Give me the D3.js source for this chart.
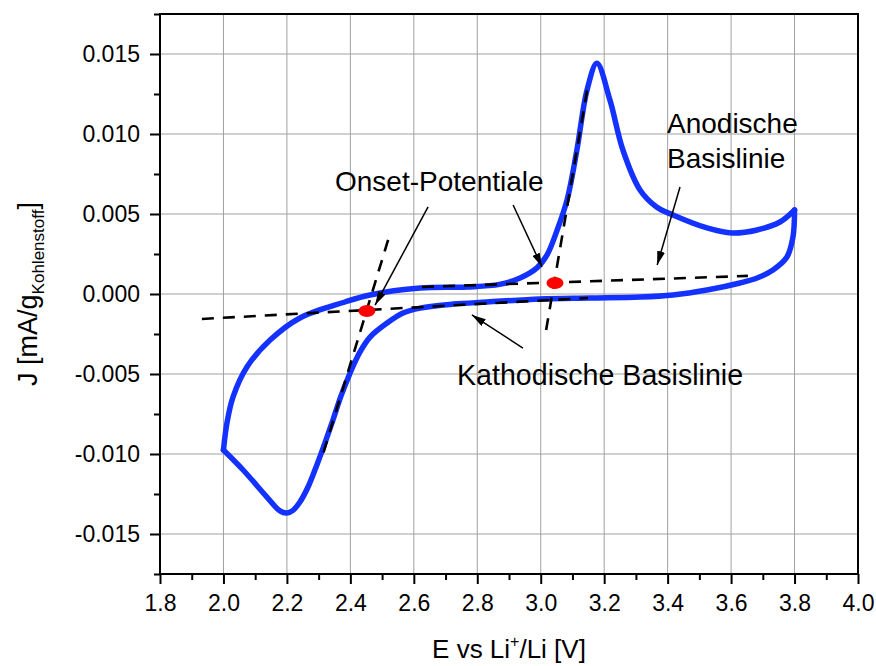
<!DOCTYPE html>
<html>
<head>
<meta charset="utf-8">
<script src="https://cdn.jsdelivr.net/npm/d3@7"></script>
<style>
  body { margin: 0; background: #fff; }
  svg text { font-family: Arial, "Liberation Sans", sans-serif; fill: #000; }
</style>
</head>
<body>
<div id="chart"></div>
<script>
'use strict';

// anodic sweep (2.0 V -> 3.8 V)
const anodicE = [2.000, 2.011, 2.030, 2.074, 2.147, 2.241, 2.383, 2.462, 2.620, 2.768, 2.870, 2.935, 2.988,
                 3.020, 3.050, 3.083, 3.114, 3.146, 3.177, 3.218, 3.259, 3.313, 3.365, 3.417, 3.524, 3.603,
                 3.682, 3.754, 3.800];
const anodicJ = [-0.00975, -0.00806, -0.00644, -0.00456, -0.00288, -0.00150, -0.00050, -0.00006, 0.00037,
                 0.00044, 0.00060, 0.00100, 0.00163, 0.00245, 0.00390, 0.00588, 0.00900, 0.01275, 0.01442,
                 0.01213, 0.00900, 0.00650, 0.00544, 0.00494, 0.00413, 0.00381, 0.00400, 0.00450, 0.00525];

// cathodic sweep (3.8 V -> 2.0 V)
const cathodicE = [3.800, 3.795, 3.776, 3.732, 3.682, 3.628, 3.524, 3.417, 3.313, 3.155, 2.998, 2.831,
                   2.724, 2.620, 2.566, 2.516, 2.462, 2.430, 2.399, 2.370, 2.345, 2.320, 2.295, 2.268,
                   2.241, 2.219, 2.200, 2.178, 2.137, 2.062, 2.000];
const cathodicJ = [0.00525, 0.00356, 0.00231, 0.00150, 0.00100, 0.00069, 0.00025, -0.00006, -0.00019,
                   -0.00025, -0.00031, -0.00050, -0.00063, -0.00088, -0.00119, -0.00181, -0.00269,
                   -0.00363, -0.00494, -0.00640, -0.00788, -0.00930, -0.01065, -0.01200, -0.01300,
                   -0.01352, -0.01369, -0.01356, -0.01269, -0.01100, -0.00975];

// dashed construction lines: baselines and tangents (start, end)
const cathodicBaseE = [1.932, 3.149];
const cathodicBaseJ = [-0.00156, -0.00025];
const anodicBaseE = [2.626, 3.653];
const anodicBaseJ = [0.00044, 0.00113];
const anodicTangentE = [3.017, 3.149];
const anodicTangentJ = [-0.00225, 0.01306];
const cathodicTangentE = [2.519, 2.311];
const cathodicTangentJ = [0.00338, -0.01019];

// onset potentials (intersections)
const onsetE = [2.452, 3.045];
const onsetJ = [-0.00106, 0.00069];

// annotation arrows: start -> tip
const arrowStartE = [2.645, 2.913, 3.439, 2.944];
const arrowStartJ = [0.00544, 0.00556, 0.00669, -0.00338];
const arrowEndE = [2.478, 3.004, 3.367, 2.783];
const arrowEndJ = [-0.00069, 0.00169, 0.00181, -0.00131];

// axis ticks
const xTicks = [1.8, 2.0, 2.2, 2.4, 2.6, 2.8, 3.0, 3.2, 3.4, 3.6, 3.8, 4.0];
const xMinorTicks = [1.9, 2.1, 2.3, 2.5, 2.7, 2.9, 3.1, 3.3, 3.5, 3.7, 3.9];
const yTicks = [-0.015, -0.010, -0.005, 0.000, 0.005, 0.010, 0.015];
const yMinorTicks = [-0.0175, -0.0125, -0.0075, -0.0025, 0.0025, 0.0075, 0.0125, 0.0175];

const width = 876, height = 666;
const margin = {top: 14, right: 18, bottom: 92, left: 160};

const svg = d3.select("#chart")
    .append("svg")
    .attr("width", width)
    .attr("height", height);

const x = d3.scaleLinear().domain([1.8, 4.0]).range([margin.left, width - margin.right]);
const y = d3.scaleLinear().domain([-0.0175, 0.0175]).range([height - margin.bottom, margin.top]);

// grid
svg.append("g").selectAll("line")
    .data(xTicks.slice(1, -1))
    .enter().append("line")
    .attr("x1", d => x(d)).attr("x2", d => x(d))
    .attr("y1", y(-0.0175)).attr("y2", y(0.0175))
    .attr("stroke", "#a0a0a0").attr("stroke-width", 1);
svg.append("g").selectAll("line")
    .data(yTicks)
    .enter().append("line")
    .attr("x1", x(1.8)).attr("x2", x(4.0))
    .attr("y1", d => y(d)).attr("y2", d => y(d))
    .attr("stroke", "#a0a0a0").attr("stroke-width", 1);

// axes
const fmtY = d => d.toFixed(3);
const xAxis = svg.append("g")
    .attr("transform", "translate(0," + y(-0.0175) + ")")
    .call(d3.axisBottom(x).tickValues(xTicks).tickSize(10).tickPadding(11).tickFormat(d => d.toFixed(1)));
const xAxisMinor = svg.append("g")
    .attr("transform", "translate(0," + y(-0.0175) + ")")
    .call(d3.axisBottom(x).tickValues(xMinorTicks).tickSize(6).tickFormat(""));
const yAxis = svg.append("g")
    .attr("transform", "translate(" + x(1.8) + ",0)")
    .call(d3.axisLeft(y).tickValues(yTicks).tickSize(10).tickPadding(10).tickFormat(fmtY));
const yAxisMinor = svg.append("g")
    .attr("transform", "translate(" + x(1.8) + ",0)")
    .call(d3.axisLeft(y).tickValues(yMinorTicks).tickSize(6).tickFormat(""));

[xAxis, xAxisMinor, yAxis, yAxisMinor].forEach(a => {
    a.select(".domain").remove();
    a.selectAll(".tick line").attr("stroke", "#000").attr("stroke-width", 2);
    a.selectAll(".tick text").attr("font-size", 23).attr("font-family", "Arial, 'Liberation Sans', sans-serif");
});

// CV curve
const line = d3.line()
    .x(d => x(d[0]))
    .y(d => y(d[1]))
    .curve(d3.curveCatmullRom.alpha(0.5));

const anodic = anodicE.map((e, i) => [e, anodicJ[i]]);
const cathodic = cathodicE.map((e, i) => [e, cathodicJ[i]]);

[anodic, cathodic].forEach(branch => {
    svg.append("path")
        .datum(branch)
        .attr("d", line)
        .attr("fill", "none")
        .attr("stroke", "#1432ff")
        .attr("stroke-width", 5.5)
        .attr("stroke-linejoin", "round")
        .attr("stroke-linecap", "round");
});

// dashed baselines and tangents
const dashed = [
    [cathodicBaseE, cathodicBaseJ],
    [anodicBaseE, anodicBaseJ],
    [anodicTangentE, anodicTangentJ],
    [cathodicTangentE, cathodicTangentJ]
];
dashed.forEach(([es, js]) => {
    svg.append("line")
        .attr("x1", x(es[0])).attr("y1", y(js[0]))
        .attr("x2", x(es[1])).attr("y2", y(js[1]))
        .attr("stroke", "#000")
        .attr("stroke-width", 2.6)
        .attr("stroke-dasharray", "12,9");
});

// onset markers
svg.append("g").selectAll("ellipse")
    .data(onsetE)
    .enter().append("ellipse")
    .attr("cx", d => x(d))
    .attr("cy", (d, i) => y(onsetJ[i]))
    .attr("rx", 8.5)
    .attr("ry", 6)
    .attr("fill", "#ff0000");

// arrows
svg.append("defs").append("marker")
    .attr("id", "arrow")
    .attr("viewBox", "0 0 14 8")
    .attr("refX", 14).attr("refY", 4)
    .attr("markerWidth", 14).attr("markerHeight", 8)
    .attr("markerUnits", "userSpaceOnUse")
    .attr("orient", "auto")
    .append("path")
    .attr("d", "M0,0 L14,4 L0,8 z")
    .attr("fill", "#000");

svg.append("g").selectAll("line")
    .data(arrowStartE)
    .enter().append("line")
    .attr("x1", d => x(d))
    .attr("y1", (d, i) => y(arrowStartJ[i]))
    .attr("x2", (d, i) => x(arrowEndE[i]))
    .attr("y2", (d, i) => y(arrowEndJ[i]))
    .attr("stroke", "#000")
    .attr("stroke-width", 1.5)
    .attr("marker-end", "url(#arrow)");

// annotation labels
const notes = svg.append("g").attr("font-size", 28);
notes.append("text").attr("x", 335).attr("y", 191).text("Onset-Potentiale");
notes.append("text").attr("x", 667).attr("y", 133).text("Anodische");
notes.append("text").attr("x", 667).attr("y", 168).text("Basislinie");
notes.append("text").attr("x", 457).attr("y", 385).attr("font-size", 28.6).text("Kathodische Basislinie");

// frame
svg.append("rect")
    .attr("x", x(1.8)).attr("y", y(0.0175))
    .attr("width", x(4.0) - x(1.8))
    .attr("height", y(-0.0175) - y(0.0175))
    .attr("fill", "none")
    .attr("stroke", "#000")
    .attr("stroke-width", 2);

// axis titles
const xTitle = svg.append("text")
    .attr("x", (x(1.8) + x(4.0)) / 2)
    .attr("y", 658)
    .attr("text-anchor", "middle")
    .attr("font-size", 26);
xTitle.append("tspan").text("E vs Li");
xTitle.append("tspan").attr("font-size", 16).attr("dy", -11).text("+");
xTitle.append("tspan").attr("dy", 11).text("/Li [V]");

const yTitle = svg.append("text")
    .attr("transform", "translate(37," + (y(-0.0175) + y(0.0175)) / 2 + ") rotate(-90)")
    .attr("text-anchor", "middle")
    .attr("font-size", 27);
yTitle.append("tspan").text("J [mA/g");
yTitle.append("tspan").attr("font-size", 17).attr("dy", 7).text("Kohlenstoff");
yTitle.append("tspan").attr("dy", -7).text("]");
</script>
</body>
</html>
